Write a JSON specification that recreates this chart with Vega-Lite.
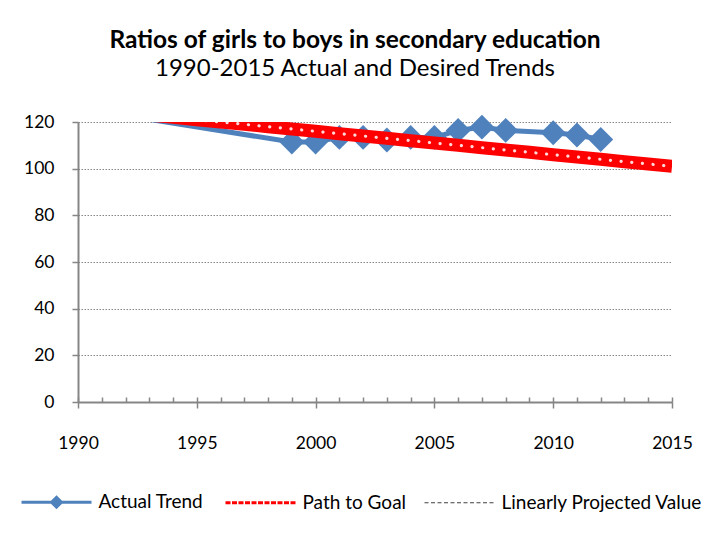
{
  "$schema": "https://vega.github.io/schema/vega-lite/v6.json",
  "autosize": "none",
  "width": 594,
  "height": 280,
  "padding": {"left": 78, "top": 122, "right": 29, "bottom": 142},
  "background": "white",
  "title": {
    "text": "Ratios of girls to boys in secondary education",
    "subtitle": "1990-2015 Actual and Desired Trends",
    "font": "Lato",
    "fontSize": 24.5,
    "fontWeight": "bold",
    "color": "black",
    "subtitleFont": "Lato",
    "subtitleFontSize": 24,
    "subtitleColor": "black",
    "subtitlePadding": 4,
    "anchor": "middle",
    "dx": -20,
    "offset": 31
  },
  "data": {
    "values": [
      {"year": 1990, "value": 126, "series": "Actual Trend"},
      {"year": 1999, "value": 111.4, "series": "Actual Trend"},
      {"year": 2000, "value": 111.4, "series": "Actual Trend"},
      {"year": 2001, "value": 113.4, "series": "Actual Trend"},
      {"year": 2002, "value": 113.4, "series": "Actual Trend"},
      {"year": 2003, "value": 112.3, "series": "Actual Trend"},
      {"year": 2004, "value": 113.4, "series": "Actual Trend"},
      {"year": 2005, "value": 113.4, "series": "Actual Trend"},
      {"year": 2006, "value": 116.4, "series": "Actual Trend"},
      {"year": 2007, "value": 117.8, "series": "Actual Trend"},
      {"year": 2008, "value": 116.4, "series": "Actual Trend"},
      {"year": 2010, "value": 115.4, "series": "Actual Trend"},
      {"year": 2011, "value": 114.4, "series": "Actual Trend"},
      {"year": 2012, "value": 112.5, "series": "Actual Trend"},
      {"year": 1990, "value": 126, "series": "Path to Goal"},
      {"year": 1991, "value": 125, "series": "Path to Goal"},
      {"year": 1992, "value": 124, "series": "Path to Goal"},
      {"year": 1993, "value": 123, "series": "Path to Goal"},
      {"year": 1994, "value": 122, "series": "Path to Goal"},
      {"year": 1995, "value": 121, "series": "Path to Goal"},
      {"year": 1996, "value": 120, "series": "Path to Goal"},
      {"year": 1997, "value": 119, "series": "Path to Goal"},
      {"year": 1998, "value": 118, "series": "Path to Goal"},
      {"year": 1999, "value": 117, "series": "Path to Goal"},
      {"year": 2000, "value": 116, "series": "Path to Goal"},
      {"year": 2001, "value": 115, "series": "Path to Goal"},
      {"year": 2002, "value": 114, "series": "Path to Goal"},
      {"year": 2003, "value": 113, "series": "Path to Goal"},
      {"year": 2004, "value": 112, "series": "Path to Goal"},
      {"year": 2005, "value": 111, "series": "Path to Goal"},
      {"year": 2006, "value": 110, "series": "Path to Goal"},
      {"year": 2007, "value": 109, "series": "Path to Goal"},
      {"year": 2008, "value": 108, "series": "Path to Goal"},
      {"year": 2009, "value": 107, "series": "Path to Goal"},
      {"year": 2010, "value": 106, "series": "Path to Goal"},
      {"year": 2011, "value": 105, "series": "Path to Goal"},
      {"year": 2012, "value": 104, "series": "Path to Goal"},
      {"year": 2013, "value": 103, "series": "Path to Goal"},
      {"year": 2014, "value": 102, "series": "Path to Goal"},
      {"year": 2015, "value": 101, "series": "Path to Goal"}
    ]
  },
  "encoding": {
    "y": {
      "field": "value",
      "type": "quantitative",
      "scale": {"domain": [0, 120], "nice": false},
      "axis": {
        "title": null,
        "values": [0, 20, 40, 60, 80, 100, 120],
        "grid": true,
        "gridColor": "#868686",
        "gridDash": [1.5, 1.5],
        "gridWidth": 1,
        "domainColor": "#868686",
        "domainWidth": 2,
        "tickColor": "#868686",
        "tickWidth": 1.5,
        "tickSize": 6,
        "labelFont": "Lato",
        "labelFontSize": 17.5,
        "labelColor": "black",
        "labelPadding": 18
      }
    }
  },
  "layer": [
    {
      "transform": [{"filter": "datum.series === 'Actual Trend'"}],
      "mark": {"type": "line", "clip": true, "strokeWidth": 5},
      "encoding": {
        "x": {
          "field": "year",
          "type": "quantitative",
          "scale": {"domain": [1990, 2015], "nice": false, "zero": false},
          "axis": {
            "orient": "bottom",
            "title": null,
            "values": [1990, 1995, 2000, 2005, 2010, 2015],
            "format": "d",
            "grid": false,
            "domainColor": "#868686",
            "domainWidth": 2,
            "tickColor": "#868686",
            "tickWidth": 1.5,
            "tickSize": 6,
            "labelFont": "Lato",
            "labelFontSize": 17.5,
            "labelColor": "black",
            "labelPadding": 26,
            "labelFlush": false
          }
        },
        "color": {
          "field": "series",
          "type": "nominal",
          "scale": {
            "domain": ["Actual Trend", "Path to Goal", "Linearly Projected Value"],
            "range": ["#4F81BD", "#FF0000", "#404040"]
          },
          "legend": {
            "orient": "none",
            "legendX": -58,
            "legendY": 343.5,
            "direction": "horizontal",
            "title": null,
            "labelFont": "Lato",
            "labelFontSize": 19,
            "labelColor": "black",
            "labelOffset": 5.5,
            "labelLimit": 0,
            "columnPadding": 15,
            "symbolType": "stroke",
            "symbolSize": 4900,
            "symbolStrokeWidth": 3,
            "encode": {
              "symbols": {
                "update": {
                  "shape": {"signal": "(datum.value === 'Actual Trend' ? 'M-1,0L1,0M0,-0.14L0.14,0L0,0.14L-0.14,0Z' : 'M-1,0L1,0')"},
                  "fill": {"signal": "(datum.value === 'Actual Trend' ? '#4F81BD' : 'transparent')"},
                  "strokeWidth": {"signal": "(datum.value === 'Linearly Projected Value' ? 1.2 : 3)"},
                  "strokeDash": {"signal": "(datum.value === 'Linearly Projected Value' ? [4, 2.5] : (datum.value === 'Path to Goal' ? [5, 1.5] : []))"}
                }
              }
            }
          }
        }
      }
    },
    {
      "transform": [{"filter": "datum.series === 'Actual Trend' && datum.value <= 120"}],
      "mark": {"type": "point", "shape": "diamond", "filled": true, "size": 620, "opacity": 1, "color": "#4F81BD"},
      "encoding": {
        "x": {"field": "year", "type": "quantitative", "axis": null}
      }
    },
    {
      "transform": [{"filter": "datum.series === 'Path to Goal'"}],
      "mark": {"type": "line", "clip": true, "strokeWidth": 13},
      "encoding": {
        "x": {"field": "year", "type": "quantitative", "axis": null},
        "color": {"field": "series", "type": "nominal"}
      }
    },
    {
      "transform": [{"filter": "datum.series === 'Path to Goal'"}],
      "mark": {"type": "line", "clip": true, "strokeWidth": 3.2, "color": "#FFFFFF", "opacity": 0.85, "strokeDash": [0.1, 10.6], "strokeCap": "round"},
      "encoding": {
        "x": {
          "field": "year",
          "type": "quantitative",
          "axis": {
            "orient": "bottom",
            "title": null,
            "values": [1990, 1991, 1992, 1993, 1994, 1995, 1996, 1997, 1998, 1999, 2000, 2001, 2002, 2003, 2004, 2005, 2006, 2007, 2008, 2009, 2010, 2011, 2012, 2013, 2014, 2015],
            "labels": false,
            "domain": false,
            "grid": false,
            "tickColor": "#868686",
            "tickWidth": 1.5,
            "tickSize": -5
          }
        }
      }
    }
  ],
  "resolve": {"axis": {"x": "independent"}},
  "config": {
    "view": {"stroke": null}
  }
}
